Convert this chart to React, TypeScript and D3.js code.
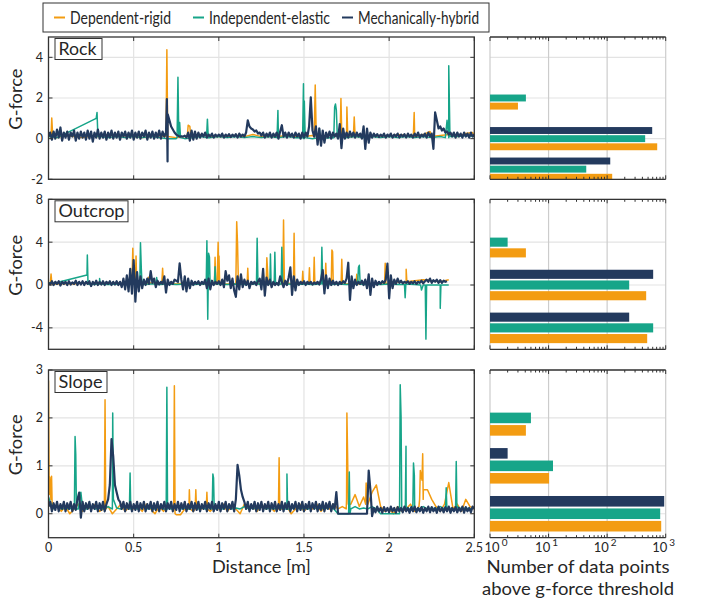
import React from "react";
import * as d3 from "d3";

// ---------------- DATA ----------------
type Pt = [number, number];
type B = number | null;

const seriesNames = ["Dependent-rigid", "Independent-elastic", "Mechanically-hybrid"];
const panelNames = ["Rock", "Outcrop", "Slope"];
const xTicks = [0, 0.5, 1, 1.5, 2, 2.5];
const rockYTicks = [-2, 0, 2, 4];
const outcropYTicks = [-4, 0, 4, 8];
const slopeYTicks = [0, 1, 2, 3];
const barTicks = [1, 10, 100, 1000];

// Rock ---------------------------------------------------------
const rockDarkStep = 0.01;
const rockDarkBase: B[] = [
  0.1, 0.3, -0.05, 0.35, 0.0, 0.45, 0.05, 0.55, -0.1, 0.3,
  0.05, 0.35, -0.05, 0.3, 0.1, 0.4, -0.1, 0.3, 0.0, 0.35,
  0.05, 0.3, -0.05, 0.4, 0.0, 0.35, -0.15, 0.3, 0.05, 0.45,
  0.0, 0.3, 0.05, 0.35, -0.05, 0.3, 0.05, 0.4, 0.0, 0.3,
  0.05, 0.35, -0.05, 0.3, 0.1, 0.35, 0.0, 0.3, 0.05, 0.4,
  -0.05, 0.3, 0.05, 0.35, 0.0, 0.3, 0.1, 0.4, -0.05, 0.3,
  0.05, 0.35, 0.0, 0.3, 0.05, 0.4, 0.0, 0.35, 0.1, 0.3,
  1.2, 0.9, 0.6, 0.45, 0.3, 0.2, 0.15, 0.1, 0.12, 0.1,
  0.15, 0.05, 0.3, -0.1, 0.4, -0.05, 0.35, 0.0, 0.3, 0.05,
  0.25, 0.1, 0.3, 0.05, 0.2, 0.1, 0.25, 0.05, 0.2, 0.1,
  0.2, 0.1, 0.25, 0.05, 0.2, 0.1, 0.22, 0.08, 0.2, 0.1,
  0.22, 0.05, 0.25, 0.1, 0.2, 0.1, 0.3, 0.9, 0.6, 0.5,
  0.45, 0.35, 0.4, 0.25, 0.3, 0.15, 0.3, 0.05, 0.25, 0.1,
  0.3, 0.05, 0.25, 0.1, 0.3, 0.0, 0.35, 0.66, 0.1, 0.3,
  0.05, 0.3, 0.1, 0.25, 0.05, 0.3, 0.1, 0.25, 0.0, 0.3,
  0.05, 0.3, 0.1, 0.6, 2.03, 0.4, 0.1, 0.6, -0.3, 0.5,
  -0.35, 0.4, -0.2, 0.3, 0.05, 0.35, 0.0, 0.3, 0.1, 0.25,
  0.0, 0.72, -0.47, 0.5, 0.0, 0.3, 0.05, 0.35, 0.1, 0.3,
  0.05, 0.3, 0.1, 0.25, 0.0, 0.6, -0.5, 0.5, -0.2, 0.3,
  0.05, 0.25, 0.1, 0.22, 0.08, 0.2, 0.1, 0.25, 0.05, 0.2,
  0.1, 0.25, 0.05, 0.2, 0.1, 0.25, 0.05, 0.2, 0.1, 0.22,
  0.05, 0.25, 0.1, 0.2, 0.05, 0.25, 0.1, 0.3, 0.05, 0.2,
  0.1, 0.25, 0.05, 0.3, 0.1, 0.25, -0.5, 1.29, 0.9, 0.5,
  0.6, 0.4, 0.5, 0.3, 0.35, 0.2, 0.3, 0.1, 0.3, 0.05,
  0.3, 0.1, 0.25, 0.05, 0.3, 0.1, 0.25, 0.05, 0.3, 0.1,
  0.2,
];
const rockDarkSpikes: Pt[] = [[0.695, 1.95], [0.699, -1.12]];
const rockOrangeStep = 0.05;
const rockOrangeBase: B[] = [
  0.1, 0.05, 0.15, 0.1, 0.05, 0.12, 0.1, 0.2, 0.1, 0.15,
  0.1, 0.05, 0.1, 0.15, 0.1, 0.05, 0.1, 0.12, 0.2, 0.1,
  0.12, 0.1, 0.15, 0.1, 0.2, 0.1, 0.12, 0.1, 0.15, 0.1,
  0.1, 0.15, 0.1, 0.2, 0.1, 0.15, 0.1, 0.12, 0.1, 0.15,
  0.1, 0.2, 0.15, 0.1, 0.2, 0.1, 0.15, 0.2, 0.1, 0.25, 0.15,
];
const rockOrangeSpikes: Pt[] = [
  [0.015, 0.1], [0.019, 1.02], [0.025, 0.1],
  [0.69, 0.1], [0.695, 4.37], [0.7, 0.1],
  [0.815, 0.1], [0.82, 0.66], [0.83, 0.6], [0.835, 0.1],
  [1.56, 0.1], [1.566, 2.64], [1.572, 0.1],
  [1.712, 0.1], [1.717, 1.98], [1.722, 0.1],
  [1.748, 0.1], [1.752, 1.56], [1.757, 0.1],
  [1.79, 0.1], [1.795, 1.07], [1.8, 0.1],
  [2.142, 0.1], [2.147, 1.29], [2.152, 0.1],
  [2.24, 0.35], [2.49, 0.3],
];
const rockGreenStep = 0.05;
const rockGreenBase: B[] = [
  0.1, 0.05, null, null, null, null, 0.1, 0.05, 0.1, 0.05,
  0.1, 0.05, 0.1, 0.05, 0.0, 0.0, 0.0, 0.05, 0.1, 0.05,
  0.1, 0.05, 0.1, 0.05, 0.1, 0.05, 0.1, 0.05, 0.1, 0.05,
  0.0, 0.0, 0.0, 0.05, 0.1, 0.05, 0.1, 0.05, 0.1, 0.05,
  0.1, 0.05, 0.1, 0.05, 0.1, 0.05, 0.1, 0.05, 0.1, 0.15, 0.1,
];
const rockGreenSpikes: Pt[] = [
  [0.087, 0.2], [0.28, 1.0], [0.285, 1.29], [0.29, 0.1],
  [0.755, 0.05], [0.76, 3.02], [0.765, 0.1], [0.77, 0.79], [0.775, 0.05],
  [0.928, 0.05], [0.933, 0.96], [0.938, 0.05],
  [1.342, 0.05], [1.347, 1.39], [1.352, 0.05],
  [1.492, 0.05], [1.497, 2.7], [1.502, 1.85], [1.507, 0.05],
  [1.585, 0.05], [1.59, 0.5], [1.595, 0.05],
  [1.675, 0.05], [1.68, 1.56], [1.685, 1.7], [1.69, 1.4], [1.696, 0.05],
  [2.33, 0.05], [2.34, 0.9], [2.35, 3.58], [2.357, 0.1],
];

// Outcrop ------------------------------------------------------
const outcropDarkStep = 0.01;
const outcropDarkBase: B[] = [
  0.2, 0.05, 0.35, 0.0, 0.3, 0.1, 0.35, -0.05, 0.3, 0.1,
  0.3, 0.0, 0.35, 0.05, 0.25, 0.1, 0.4, 0.0, 0.3, 0.05,
  0.35, 0.0, 0.3, 0.1, 0.35, -0.1, 0.3, 0.05, 0.4, 0.0,
  0.3, 0.05, 0.35, 0.0, 0.3, 0.1, 0.35, 0.0, 0.3, 0.05,
  0.35, 0.0, 0.3, -0.2, 0.6, -0.4, 0.9, -0.6, 1.5, -0.8,
  2.33, -1.56, 1.2, -0.6, 0.8, -0.3, 0.5, 0.0, 0.6, 0.1,
  1.3, 0.2, 0.6, -0.2, 0.4, 0.05, 0.3, 0.1, 0.8, -0.7,
  0.5, 0.0, 0.3, 0.1, 0.5, 0.4, 0.3, 2.03, 0.5, -0.4,
  0.8, -0.6, 0.6, -0.3, 0.4, 0.0, 0.3, 0.1, 0.35, 0.0,
  0.3, 0.1, 0.5, -0.3, 0.6, -0.4, 0.4, 0.0, 0.3, 0.1,
  0.35, 0.0, 0.5, -0.2, 1.3, 0.4, 0.9, -0.3, 0.6, -0.5,
  -1.1, 0.8, -0.4, 1.0, -0.2, 0.5, 0.0, 0.4, -0.3, 0.3,
  0.1, 0.3, 0.0, 0.35, 0.6, -0.4, 1.5, -1.0, 0.7, 0.0,
  0.5, -0.2, 0.3, 0.0, 0.2, 0.0, 0.8, 0.3, -0.2, 0.4,
  0.0, 0.7, 1.65, -0.93, 0.8, -0.5, 0.5, 0.0, 0.3, 0.1,
  0.35, 0.0, 0.3, 0.1, 0.3, 0.05, 0.25, 0.1, 0.3, 0.05,
  0.5, 1.4, -0.78, 0.9, -0.3, 0.6, 0.0, 0.4, 0.05, 0.3,
  0.0, 0.3, 0.1, 0.35, 0.2, 0.6, 2.08, -1.4, 0.8, -0.3,
  0.5, 0.0, 0.3, 0.1, 0.4, 0.0, 0.5, -0.3, 1.0, -0.93,
  0.6, -0.2, 0.4, 0.0, 0.3, 0.1, 0.35, 0.2, 0.5, 2.0,
  -1.24, 0.9, -0.3, 0.5, 0.1, 0.6, 0.2, 0.4, 0.15, 0.3,
  0.2, 0.35, 0.1, 0.3, 0.15, 0.35, 0.1, 0.3, 0.2, 0.4,
  0.15, 0.35, 0.5, 0.3, 0.6, 0.2, 0.45, 0.3, 0.5, 0.2,
  0.45, 0.2, 0.4, 0.3, 0.35,
];
const outcropDarkSpikes: Pt[] = [];
const outcropOrangeStep = 0.05;
const outcropOrangeBase: B[] = [
  0.2, 0.1, 0.15, 0.1, 0.2, 0.1, 0.15, 0.1, 0.2, 0.1,
  0.15, 0.1, 0.2, 0.1, 0.15, 0.1, 0.2, 0.1, 0.15, 0.1,
  0.2, 0.1, 0.15, 0.1, 0.2, 0.1, 0.15, 0.1, 0.2, 0.1,
  0.15, 0.1, 0.2, 0.1, 0.15, 0.1, 0.2, 0.1, 0.15, 0.1,
  0.2, 0.3, 0.2, 0.4, 0.5, 0.4, 0.3, 0.5,
];
const outcropOrangeSpikes: Pt[] = [
  [0.01, 0.1], [0.015, 1.03], [0.02, 0.1],
  [0.49, 0.1], [0.495, 3.43], [0.5, 0.1], [0.51, 0.1], [0.514, 2.7], [0.518, 0.1],
  [0.582, 0.1], [0.586, 0.72], [0.59, 0.1],
  [0.665, 0.1], [0.67, 1.56], [0.675, 0.1],
  [0.974, 0.1], [0.978, 2.6], [0.982, 0.1],
  [0.99, 0.1], [0.996, 4.0], [1.001, 2.7], [1.005, 0.1],
  [1.1, 0.1], [1.105, 5.9], [1.11, 3.83], [1.115, 0.1],
  [1.166, 0.1], [1.17, 1.56], [1.174, 0.1],
  [1.278, 0.1], [1.282, 2.55], [1.286, 1.4], [1.29, 0.1],
  [1.376, 0.1], [1.38, 6.07], [1.385, 0.1],
  [1.438, 0.1], [1.442, 4.83], [1.446, 0.1],
  [1.489, 0.1], [1.493, 1.28], [1.497, 0.1],
  [1.528, 0.1], [1.532, 1.6], [1.536, 0.1],
  [1.556, 0.1], [1.56, 2.59], [1.564, 0.1],
  [1.624, 0.1], [1.628, 2.03], [1.632, 0.1],
  [1.66, 0.1], [1.664, 3.27], [1.668, 3.1], [1.672, 0.1],
  [1.718, 0.1], [1.722, 2.4], [1.726, 0.1],
  [1.805, 0.1], [1.81, 1.0], [1.82, 0.1],
  [1.973, 0.1], [1.977, 2.03], [1.981, 0.1],
  [2.096, 0.2], [2.1, 1.47], [2.104, 0.3],
];
const outcropGreenStep = 0.05;
const outcropGreenBase: B[] = [
  0.2, 0.15, null, null, null, 0.05, 0.1, 0.05, 0.1, 0.05,
  0.1, 0.05, 0.1, 0.05, 0.1, 0.05, 0.1, 0.05, 0.1, 0.05,
  0.1, 0.05, 0.1, 0.05, 0.1, 0.05, 0.1, 0.05, 0.1, 0.05,
  0.1, 0.05, 0.1, 0.05, 0.1, 0.05, 0.1, 0.05, 0.1, 0.05,
  0.1, 0.05, 0.1, 0.05, 0.0, 0.0, 0.0, 0.0,
];
const outcropGreenSpikes: Pt[] = [
  [0.068, 0.3], [0.226, 0.93], [0.228, 2.8], [0.232, 0.1],
  [0.296, 0.1], [0.3, 0.6], [0.304, 0.1],
  [0.536, 0.1], [0.54, 3.95], [0.545, 1.5], [0.549, 0.1],
  [0.631, 0.1], [0.635, 0.7], [0.639, 0.1],
  [0.926, 0.1], [0.93, 4.14], [0.935, -3.2], [0.94, 2.96], [0.945, 2.6], [0.949, 0.1],
  [0.974, 0.1], [0.978, 1.7], [0.982, 0.1],
  [1.221, 0.1], [1.225, 4.36], [1.23, 0.1],
  [1.299, 0.1], [1.303, 2.9], [1.307, 0.1],
  [1.325, 0.1], [1.329, 3.06], [1.333, 0.1],
  [1.366, 0.1], [1.37, 3.52], [1.375, 0.1],
  [1.601, 0.1], [1.605, 3.52], [1.61, 0.1],
  [1.815, 0.1], [1.82, 1.65], [1.825, 1.84], [1.83, 0.1],
  [2.09, 0.05], [2.094, -1.19], [2.098, 0.05],
  [2.185, 0.0], [2.19, -0.47], [2.212, 0.0], [2.216, -5.05], [2.22, 0.0],
  [2.296, 0.0], [2.3, -2.18], [2.304, 0.0],
];

// Slope --------------------------------------------------------
const slopeDarkStep = 0.01;
const slopeDarkBase: B[] = [
  0.15, 0.25, 0.05, 0.22, 0.08, 0.25, 0.05, 0.2, 0.1, 0.25,
  0.05, 0.22, 0.1, 0.25, 0.05, 0.2, 0.08, 0.3, 0.44, -0.08,
  0.25, 0.05, 0.22, 0.1, 0.25, 0.05, 0.2, 0.1, 0.25, 0.05,
  0.22, 0.08, 0.25, 0.05, 0.2, 0.3, 0.6, 1.56, 1.2, 0.6,
  0.45, 0.3, 0.25, 0.1, 0.25, 0.05, 0.22, 0.1, 0.25, 0.05,
  0.2, 0.08, 0.25, 0.05, 0.22, 0.1, 0.25, 0.05, 0.2, 0.1,
  0.25, 0.05, 0.22, 0.08, 0.25, 0.05, 0.2, 0.1, 0.25, 0.05,
  0.22, 0.1, 0.25, 0.05, 0.2, 0.08, 0.25, 0.05, 0.22, 0.1,
  0.25, 0.05, 0.2, 0.1, 0.25, 0.05, 0.22, 0.08, 0.25, 0.05,
  0.2, 0.1, 0.25, 0.05, 0.22, 0.1, 0.25, 0.05, 0.2, 0.08,
  0.25, 0.05, 0.22, 0.1, 0.25, 0.05, 0.2, 0.1, 0.25, 0.05,
  0.3, 1.02, 0.8, 0.5, 0.35, 0.25, 0.1, 0.25, 0.05, 0.2,
  0.1, 0.25, 0.05, 0.22, 0.08, 0.25, 0.05, 0.2, 0.1, 0.25,
  0.05, 0.22, 0.1, 0.25, 0.05, 0.2, 0.08, 0.25, 0.05, 0.22,
  0.1, 0.25, 0.05, 0.2, 0.1, 0.25, 0.05, 0.22, 0.08, 0.25,
  0.05, 0.2, 0.1, 0.25, 0.05, 0.22, 0.1, 0.25, 0.05, 0.2,
  0.08, 0.25, 0.05, 0.22, 0.1, 0.25, 0.05, 0.2, 0.1, 0.45,
  0.0, 0.0, 0.0, 0.0, 0.0, 0.0, 0.0, 0.0, 0.0, 0.0,
  0.0, 0.0, 0.0, 0.0, 0.0, 0.0, 0.0, 0.0, 0.9, 0.5,
  -0.05, 0.12, 0.03, 0.15, 0.05, 0.12, 0.02, 0.14, 0.05, 0.12,
  0.03, 0.15, 0.05, 0.12, 0.02, 0.14, 0.05, 0.12, 0.03, 0.15,
  0.05, 0.12, 0.02, 0.14, 0.05, 0.15, 0.03, 0.12, 0.05, 0.14,
  0.02, 0.12, 0.05, 0.15, 0.03, 0.14, 0.05, 0.12, 0.02, 0.15,
  0.05, 0.12, 0.03, 0.14, 0.05, 0.15, 0.02, 0.12, 0.05, 0.14,
  0.03, 0.12, 0.05, 0.15, 0.02, 0.14, 0.05, 0.12, 0.03, 0.15,
  0.1,
];
const slopeDarkSpikes: Pt[] = [];
const slopeOrangeStep = 0.025;
const slopeOrangeBase: B[] = [
  2.78, 0.1, 0.2, 0.05, 0.15, 0.0, 0.1, 0.2, 0.05, 0.15,
  0.1, 0.2, 0.05, 0.1, 0.15, 0.0, 0.1, 0.2, 0.05, 0.15,
  0.1, 0.15, 0.05, 0.2, 0.1, 0.0, 0.15, 0.05, 0.2, 0.1,
  -0.02, -0.02, 0.1, 0.2, 0.05, 0.15, 0.1, 0.2, 0.05, 0.15,
  0.1, 0.2, 0.05, 0.15, 0.1, 0.0, 0.2, 0.1, 0.15, 0.05,
  0.2, 0.1, 0.15, 0.05, 0.2, 0.1, 0.15, 0.0, 0.1, 0.2,
  0.05, 0.15, 0.1, 0.2, 0.05, 0.15, 0.1, 0.2, 0.1, 0.15,
  0.3, 0.2, 0.4, 0.15, 0.35, 0.2, 0.45, 0.6, 0.15, 0.05,
  0.1, 0.0, 0.15, 0.05, 0.1, 0.2, 0.05, 0.15, 0.3, 0.5,
  0.3, 0.15, 0.05, 0.2, 0.65, 0.1, 0.2, 0.05, 0.3, 0.15,
  0.1,
];
const slopeOrangeSpikes: Pt[] = [
  [0.004, 0.4], [0.008, 0.76], [0.014, 0.3], [0.018, 0.78], [0.022, 0.1],
  [0.328, 0.1], [0.332, 2.38], [0.336, 0.1],
  [0.735, 0.1], [0.739, 2.67], [0.743, 0.0],
  [0.823, 0.1], [0.827, 0.5], [0.831, 0.1],
  [0.861, 0.1], [0.865, 0.5], [0.869, 0.1],
  [0.926, 0.1], [0.93, 0.45], [0.934, 0.1],
  [1.35, 0.1], [1.354, 1.17], [1.358, 0.1],
  [1.748, 0.1], [1.752, 2.1], [1.756, 1.25], [1.76, 0.2],
  [1.862, 0.2], [1.865, 0.64], [1.87, 0.3],
  [2.179, 0.3], [2.183, 0.9], [2.193, 0.7], [2.197, 1.25], [2.201, 0.5],
];
const slopeGreenStep = 0.025;
const slopeGreenBase: B[] = [
  0.35, 0.1, 0.15, 0.1, 0.12, 0.1, 0.15, 0.1, 0.12, 0.1,
  0.15, 0.1, 0.12, 0.1, 0.15, 0.1, 0.12, 0.1, 0.15, 0.1,
  0.12, 0.1, 0.15, 0.1, 0.12, 0.1, 0.15, 0.1, 0.12, 0.1,
  0.15, 0.1, 0.12, 0.1, 0.15, 0.1, 0.12, 0.1, 0.15, 0.1,
  0.12, 0.1, 0.15, 0.1, 0.12, 0.1, 0.15, 0.1, 0.12, 0.1,
  0.15, 0.1, 0.12, 0.1, 0.15, 0.1, 0.12, 0.1, 0.15, 0.1,
  0.12, 0.1, 0.15, 0.1, 0.12, 0.1, 0.15, 0.1, 0.0, 0.0,
  0.0, 0.1, 0.15, 0.1, 0.12, 0.1, 0.15, 0.1, 0.0, 0.0,
  0.0, 0.0, 0.0, 0.1, 0.15, 0.1, 0.12, 0.1, 0.15, 0.1,
  0.12, 0.1, 0.15, 0.1, 0.12, 0.1, 0.15, 0.1, 0.12, 0.1,
  0.12,
];
const slopeGreenSpikes: Pt[] = [
  [0.152, 0.1], [0.156, 1.61], [0.16, 1.24], [0.164, 0.1], [0.19, 0.45],
  [0.373, 0.1], [0.377, 2.1], [0.381, 0.3],
  [0.475, 0.1], [0.479, 0.85], [0.483, 0.1],
  [0.691, 0.1], [0.695, 2.64], [0.699, 0.1],
  [0.961, 0.1], [0.965, 0.83], [0.969, 0.75], [0.973, 0.1],
  [1.396, 0.1], [1.4, 0.83], [1.404, 0.1],
  [1.762, 0.0], [1.766, 0.87], [1.77, 0.0],
  [2.061, 0.0], [2.065, 2.69], [2.07, 2.03], [2.074, 0.1],
  [2.095, 0.1], [2.099, 1.41], [2.103, 0.1],
  [2.139, 0.1], [2.143, 1.06], [2.148, 0.8], [2.152, 0.1],
  [2.331, 0.1], [2.335, 0.54], [2.339, 0.1],
  [2.39, 0.1], [2.394, 1.09], [2.398, 0.1],
];

// Bar data: number of data points above threshold (per group: top, middle, bottom)
const rockGroups = [2, 0, -1.5];
const rockBarsDark = [0, 588, 113];
const rockBarsGreen = [4.1, 446, 44];
const rockBarsOrange = [3.0, 716, 122];
const outcropGroups = [4, 0, -4];
const outcropBarsDark = [0, 611, 238];
const outcropBarsGreen = [2.0, 238, 611];
const outcropBarsOrange = [4.1, 464, 483];
const slopeGroups = [2, 1, 0];
const slopeBarsDark = [0, 2.0, 943];
const slopeBarsGreen = [5.0, 11.9, 805];
const slopeBarsOrange = [4.1, 10.2, 838];

// ---------------- STYLE / LAYOUT ----------------
const ORANGE = "#f39c12";
const GREEN = "#17a589";
const DARK = "#233a5e";
const TXT = "#262626";
const AX = "#333333";
const GRID = "#e3e3e3";
const FONT = "Lato, 'Open Sans', sans-serif";

const LX0 = 48.5, LX1 = 474.3;
const BX0 = 490, BX1 = 665.7;

function buildSeries(base: B[], step: number, extra: Pt[]): Pt[] {
  const pts: Pt[] = [];
  base.forEach((v, i) => {
    if (v !== null) pts.push([+(i * step).toFixed(4), v]);
  });
  extra.forEach((p) => pts.push(p));
  return pts.sort((a, b) => a[0] - b[0]);
}

const panels = [
  {
    name: panelNames[0], top: 37, bottom: 179.3, ydom: [-2, 5], yticks: rockYTicks, labelW: 47, labelTL: 38,
    orange: buildSeries(rockOrangeBase, rockOrangeStep, rockOrangeSpikes),
    green: buildSeries(rockGreenBase, rockGreenStep, rockGreenSpikes),
    dark: buildSeries(rockDarkBase, rockDarkStep, rockDarkSpikes),
    groups: rockGroups, barStep: 0.4,
    bars: [rockBarsDark, rockBarsGreen, rockBarsOrange],
  },
  {
    name: panelNames[1], top: 199.3, bottom: 349.3, ydom: [-6, 8], yticks: outcropYTicks, labelW: 73, labelTL: 66,
    orange: buildSeries(outcropOrangeBase, outcropOrangeStep, outcropOrangeSpikes),
    green: buildSeries(outcropGreenBase, outcropGreenStep, outcropGreenSpikes),
    dark: buildSeries(outcropDarkBase, outcropDarkStep, outcropDarkSpikes),
    groups: outcropGroups, barStep: 1.0,
    bars: [outcropBarsDark, outcropBarsGreen, outcropBarsOrange],
  },
  {
    name: panelNames[2], top: 370, bottom: 537.7, ydom: [-0.5, 3], yticks: slopeYTicks, labelW: 52, labelTL: 44,
    orange: buildSeries(slopeOrangeBase, slopeOrangeStep, slopeOrangeSpikes),
    green: buildSeries(slopeGreenBase, slopeGreenStep, slopeGreenSpikes),
    dark: buildSeries(slopeDarkBase, slopeDarkStep, slopeDarkSpikes),
    groups: slopeGroups, barStep: 0.26,
    bars: [slopeBarsDark, slopeBarsGreen, slopeBarsOrange],
  },
];

const x = d3.scaleLinear().domain([0, 2.5]).range([LX0, LX1]);
const xb = d3.scaleLog().domain([1, 1000]).range([BX0, BX1]);
const minorLog: number[] = [];
[1, 10, 100].forEach((k) => { for (let m = 2; m <= 9; m++) minorLog.push(m * k); });

const seriesColors = [ORANGE, GREEN, DARK];
const barColors = [DARK, GREEN, ORANGE];

function Panel({ p, idx }: { p: (typeof panels)[number]; idx: number }) {
  const y = d3.scaleLinear().domain(p.ydom).range([p.bottom, p.top]);
  const line = d3.line<Pt>().x((d) => x(d[0])).y((d) => y(d[1]));
  const clipId = `clip${idx}`;
  const clipB = `clipb${idx}`;
  const isLast = idx === 2;
  const tl = 4;
  return (
    <g>
      <defs>
        <clipPath id={clipId}>
          <rect x={LX0} y={p.top} width={LX1 - LX0} height={p.bottom - p.top} />
        </clipPath>
        <clipPath id={clipB}>
          <rect x={BX0} y={p.top} width={BX1 - BX0} height={p.bottom - p.top} />
        </clipPath>
      </defs>
      {xTicks.map((t) => (
        <line key={"gx" + t} x1={x(t)} x2={x(t)} y1={p.top} y2={p.bottom} stroke={GRID} strokeWidth={1.2} />
      ))}
      {p.yticks.map((t) => (
        <line key={"gy" + t} x1={LX0} x2={LX1} y1={y(t)} y2={y(t)} stroke={GRID} strokeWidth={1.2} />
      ))}
      <g clipPath={`url(#${clipId})`} fill="none" strokeLinejoin="round">
        <path d={line(p.orange) || ""} stroke={ORANGE} strokeWidth={1.5} />
        <path d={line(p.green) || ""} stroke={GREEN} strokeWidth={1.5} />
        <path d={line(p.dark) || ""} stroke={DARK} strokeWidth={2.2} />
      </g>
      <rect x={LX0} y={p.top} width={LX1 - LX0} height={p.bottom - p.top} fill="none" stroke={AX} strokeWidth={1.3} />
      {xTicks.map((t) => (
        <g key={"tx" + t}>
          <line x1={x(t)} x2={x(t)} y1={p.bottom} y2={p.bottom - tl} stroke={AX} />
          <line x1={x(t)} x2={x(t)} y1={p.top} y2={p.top + tl} stroke={AX} />
        </g>
      ))}
      {p.yticks.map((t) => (
        <g key={"ty" + t}>
          <line x1={LX0} x2={LX0 + tl} y1={y(t)} y2={y(t)} stroke={AX} />
          <line x1={LX1} x2={LX1 - tl} y1={y(t)} y2={y(t)} stroke={AX} />
          <text x={43} y={y(t)} dy="0.35em" textAnchor="end" fontSize={12.5} fill={TXT} fontFamily={FONT}>
            {t}
          </text>
        </g>
      ))}
      {isLast &&
        xTicks.map((t) => (
          <text key={"lx" + t} x={x(t)} y={552} textAnchor="middle" fontSize={12.5} fill={TXT} fontFamily={FONT}>
            {t}
          </text>
        ))}
      <rect x={55} y={p.top + 1.5} width={p.labelW} height={21} fill="white" stroke={AX} strokeWidth={1} />
      <text x={58.5} y={p.top + 18} fontSize={17} fill={TXT} fontFamily={FONT}
        textLength={p.labelTL} lengthAdjust="spacingAndGlyphs">{p.name}</text>
      <text
        transform={`translate(22,${(p.top + p.bottom) / 2 - 9}) rotate(-90)`}
        textAnchor="middle" fontSize={17.5} fill={TXT} fontFamily={FONT}
        textLength={61} lengthAdjust="spacingAndGlyphs"
      >
        G-force
      </text>

      {p.yticks.map((t) => (
        <line key={"bgy" + t} x1={BX0} x2={BX1} y1={y(t)} y2={y(t)} stroke={GRID} strokeWidth={1.2} />
      ))}
      {barTicks.map((t) => (
        <line key={"bgx" + t} x1={xb(t)} x2={xb(t)} y1={p.top} y2={p.bottom} stroke="#cccccc" strokeWidth={1.2} />
      ))}
      <g clipPath={`url(#${clipB})`}>
        {p.groups.map((c, gi) =>
          p.bars.map((vals, si) => {
            const v = vals[gi];
            if (!v || v <= 0) return null;
            const yc = c + (1 - si) * p.barStep;
            const h = p.barStep * 0.85;
            const y0 = y(yc + h / 2);
            const y1 = y(yc - h / 2);
            return (
              <rect key={`b${gi}-${si}`} x={xb(1)} y={y0} width={xb(v) - xb(1)} height={y1 - y0} fill={barColors[si]} />
            );
          })
        )}
      </g>
      <line x1={BX0} x2={BX1} y1={p.top} y2={p.top} stroke={AX} strokeWidth={1.3} />
      <line x1={BX0} x2={BX1} y1={p.bottom} y2={p.bottom} stroke={AX} strokeWidth={1.3} />
      {barTicks.map((t) => (
        <g key={"bt" + t}>
          <line x1={xb(t)} x2={xb(t)} y1={p.bottom} y2={p.bottom - tl} stroke={AX} />
          <line x1={xb(t)} x2={xb(t)} y1={p.top} y2={p.top + tl} stroke={AX} />
        </g>
      ))}
      {minorLog.map((t) => (
        <g key={"bm" + t}>
          <line x1={xb(t)} x2={xb(t)} y1={p.bottom} y2={p.bottom - 2.5} stroke={AX} />
          <line x1={xb(t)} x2={xb(t)} y1={p.top} y2={p.top + 2.5} stroke={AX} />
        </g>
      ))}
      {isLast &&
        barTicks.map((t, i) => (
          <text key={"lb" + t} x={xb(t) + (i === 0 ? 6 : -2)} y={552} textAnchor="middle" fontSize={13} fill={TXT} fontFamily={FONT}>
            10
            <tspan fontSize={10} dx={2} dy={-6}>{i}</tspan>
          </text>
        ))}
    </g>
  );
}

export default function App() {
  const legendX = [54, 193, 342];
  const legendTL = [101, 121, 121];
  return (
    <svg width={704} height={604} style={{ position: "absolute", left: 0, top: 0, background: "white" }}>
      <rect x={0} y={0} width={704} height={604} fill="white" />
      <rect x={43} y={3} width={446} height={29} fill="white" stroke={AX} strokeWidth={1} />
      {seriesNames.map((n, i) => (
        <g key={n}>
          <line x1={legendX[i]} x2={legendX[i] + 11} y1={17.5} y2={17.5} stroke={seriesColors[i]} strokeWidth={2} />
          <text x={legendX[i] + 16} y={23.5} fontSize={16.5} fill={TXT} fontFamily={FONT}
            textLength={legendTL[i]} lengthAdjust="spacingAndGlyphs">{n}</text>
        </g>
      ))}
      {panels.map((p, i) => (
        <Panel key={p.name} p={p} idx={i} />
      ))}
      <text x={(LX0 + LX1) / 2} y={573} textAnchor="middle" fontSize={18} fill={TXT} fontFamily={FONT}
        textLength={99} lengthAdjust="spacingAndGlyphs">
        Distance [m]
      </text>
      <text x={578} y={573} textAnchor="middle" fontSize={18} fill={TXT} fontFamily={FONT}
        textLength={183} lengthAdjust="spacingAndGlyphs">
        Number of data points
      </text>
      <text x={578} y={595} textAnchor="middle" fontSize={18} fill={TXT} fontFamily={FONT}
        textLength={192} lengthAdjust="spacingAndGlyphs">
        above g-force threshold
      </text>
    </svg>
  );
}
